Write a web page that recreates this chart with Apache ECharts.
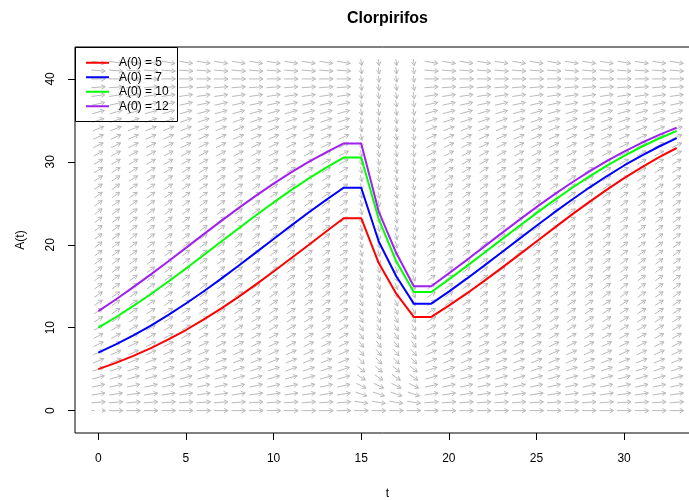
<!DOCTYPE html>
<html><head><meta charset="utf-8">
<script src="https://cdn.jsdelivr.net/npm/echarts@6/dist/echarts.min.js"></script>
<style>html,body{margin:0;padding:0;background:#fff}#c{width:689px;height:500px}</style>
</head><body><div id="c"></div>
<script>
// ---- data ----
const tValues = [0,1,2,3,4,5,6,7,8,9,10,11,12,13,14,15,16,17,18,19,20,21,22,23,24,25,26,27,28,29,30,31,32,33];
const seriesNames = ['A(0) = 5','A(0) = 7','A(0) = 10','A(0) = 12'];
const a5  = [5.0,5.75,6.6,7.54,8.58,9.72,10.97,12.3,13.72,15.22,16.77,18.37,19.98,21.6,23.2,23.2,17.8,14.1,11.3,11.3,12.66,14.1,15.61,17.18,18.78,20.4,22.01,23.6,25.14,26.62,28.03,29.34,30.56,31.67];
const a7  = [7.0,7.99,9.07,10.26,11.54,12.92,14.37,15.89,17.47,19.08,20.7,22.31,23.89,25.42,26.88,26.88,20.4,16.2,12.9,12.9,14.35,15.88,17.45,19.06,20.68,22.29,23.87,25.4,26.87,28.26,29.56,30.75,31.85,32.86];
const a10 = [10.0,11.26,12.62,14.06,15.57,17.14,18.74,20.36,21.97,23.56,25.1,26.59,27.99,29.3,30.52,30.52,23.1,18.0,14.3,14.3,15.82,17.39,19.0,20.62,22.23,23.81,25.35,26.82,28.21,29.51,30.71,31.82,32.82,33.73];
const a12 = [12.0,13.4,14.89,16.43,18.02,19.63,21.25,22.85,24.42,25.93,27.37,28.73,29.99,31.15,32.22,32.22,24.0,19.0,15.0,15.0,16.55,18.14,19.75,21.37,22.97,24.54,26.04,27.48,28.82,30.08,31.24,32.3,33.26,34.12];
const xTicks = [0,5,10,15,20,25,30];
const yTicks = [0,10,20,30,40];
// direction field grid
const fieldT = [0,1,2,3,4,5,6,7,8,9,10,11,12,13,14,15,16,17,18,19,20,21,22,23,24,25,26,27,28,29,30,31,32,33];
const fieldA = [0,1,2,3,4,5,6,7,8,9,10,11,12,13,14,15,16,17,18,19,20,21,22,23,24,25,26,27,28,29,30,31,32,33,34,35,36,37,38,39,40,41,42];
const growthSlope = [0,0.16,0.31,0.45,0.58,0.71,0.83,0.94,1.04,1.13,1.22,1.29,1.36,1.42,1.47,1.52,1.56,1.58,1.6,1.62,1.62,1.62,1.6,1.58,1.56,1.52,1.47,1.42,1.36,1.29,1.22,1.13,1.04,0.94,0.83,0.71,0.58,0.45,0.31,0.16,0,-0.17,-0.34];
const decaySlope = [0,-0.35,-0.7,-1.05,-1.4,-1.75,-2.1,-2.45,-2.8,-3.15,-3.5,-3.85,-4.2,-4.55,-4.9,-5.25,-5.6,-5.95,-6.3,-6.65,-7,-7.35,-7.7,-8.05,-8.4,-8.75,-9.1,-9.45,-9.8,-10.15,-10.5,-10.85,-11.2,-11.55,-11.9,-12.25,-12.6,-12.95,-13.3,-13.65,-14,-14.35,-14.7];
const decayCols = [15,16,17,18];
const originPoint = [[0,0]];

// ---- build ----
const FONT = '"Liberation Sans", Arial, sans-serif';
const fieldData = [];
fieldT.forEach(t => fieldA.forEach((a, i) => {
  fieldData.push([t, a, decayCols.includes(t) ? decaySlope[i] : growthSlope[i]]);
}));
const ARROW_LEN = 0.8;
function renderArrow(params, api) {
  const t = api.value(0), a = api.value(1), s = api.value(2);
  const n = Math.sqrt(1 + s * s);
  const dt = ARROW_LEN / n / 2, da = s * ARROW_LEN / n / 2;
  const p0 = api.coord([t - dt, a - da]), p1 = api.coord([t + dt, a + da]);
  const dx = p1[0] - p0[0], dy = p1[1] - p0[1];
  const len = Math.hypot(dx, dy) || 1;
  const bx = -dx / len, by = -dy / len;
  const h = 4.5, c = Math.cos(Math.PI / 6), sn = Math.sin(Math.PI / 6);
  const h1 = [p1[0] + h * (bx * c - by * sn), p1[1] + h * (bx * sn + by * c)];
  const h2 = [p1[0] + h * (bx * c + by * sn), p1[1] + h * (-bx * sn + by * c)];
  const style = { stroke: '#bababa', lineWidth: 1, fill: null };
  return { type: 'group', children: [
    { type: 'line', shape: { x1: p0[0], y1: p0[1], x2: p1[0], y2: p1[1] }, style: style },
    { type: 'polyline', shape: { points: [h1, p1, h2] }, style: style }
  ]};
}
const colors = ['#ff0000', '#0000ff', '#00ff00', '#a020f0'];
const lineData = [a5, a7, a10, a12];
const lineSeries = lineData.map((arr, k) => ({
  name: seriesNames[k], type: 'line', color: colors[k],
  data: tValues.map((t, i) => [t, arr[i]]),
  showSymbol: false, symbol: 'none', z: 5,
  lineStyle: { color: colors[k], width: 2 }
}));

const chart = echarts.init(document.getElementById('c'), null, { renderer: 'canvas' });
chart.setOption({
  animation: false,
  backgroundColor: '#fff',
  title: { text: 'Clorpirifos', left: 342, top: 6,
    textStyle: { fontSize: 16, fontWeight: 'bold', color: '#000', fontFamily: FONT } },
  legend: {
    data: seriesNames, orient: 'vertical', left: 86, top: 55.5, padding: 0,
    itemWidth: 23, itemHeight: 2, icon: 'rect', itemGap: 0,
    textStyle: { fontSize: 12, color: '#000', fontFamily: FONT, lineHeight: 14.5, padding: [0, 0, 0, 5] }
  },
  grid: { left: 75, top: 47, width: 625, height: 386, show: true,
    outerBoundsMode: 'none', containLabel: false,
    borderColor: '#000', borderWidth: 1, backgroundColor: 'transparent' },
  xAxis: {
    type: 'value', min: -1.33, max: 34.33,
    axisLine: { show: false, onZero: false }, splitLine: { show: false },
    axisTick: { show: true, length: 7, inside: false, customValues: xTicks, lineStyle: { color: '#000' } },
    axisLabel: { customValues: xTicks, margin: 20, fontSize: 12, color: '#000', fontFamily: FONT },
    name: 't', nameLocation: 'middle', nameGap: 55,
    nameTextStyle: { fontSize: 12, color: '#000', fontFamily: FONT }
  },
  yAxis: {
    type: 'value', min: -2.7, max: 43.85,
    axisLine: { show: false, onZero: false }, splitLine: { show: false },
    axisTick: { show: true, length: 7, inside: false, customValues: yTicks, lineStyle: { color: '#000' } },
    axisLabel: { customValues: yTicks, margin: 18, rotate: 90, fontSize: 12, color: '#000', fontFamily: FONT },
    name: 'A(t)', nameLocation: 'middle', nameGap: 48,
    nameTextStyle: { fontSize: 12, color: '#000', fontFamily: FONT }
  },
  graphic: [
    { type: 'rect', z: 10, shape: { x: 75.5, y: 47.5, width: 102, height: 74 },
      style: { fill: null, stroke: '#000', lineWidth: 1 } }
  ],
  series: [
    { type: 'custom', name: 'field', renderItem: renderArrow, data: fieldData, z: 1, silent: true },
    ...lineSeries,
    { type: 'scatter', name: 'origin', data: originPoint, symbol: 'emptyCircle', symbolSize: 6, z: 6,
      itemStyle: { color: '#fff', borderColor: '#333', borderWidth: 1 } }
  ]
});
</script></body></html>
